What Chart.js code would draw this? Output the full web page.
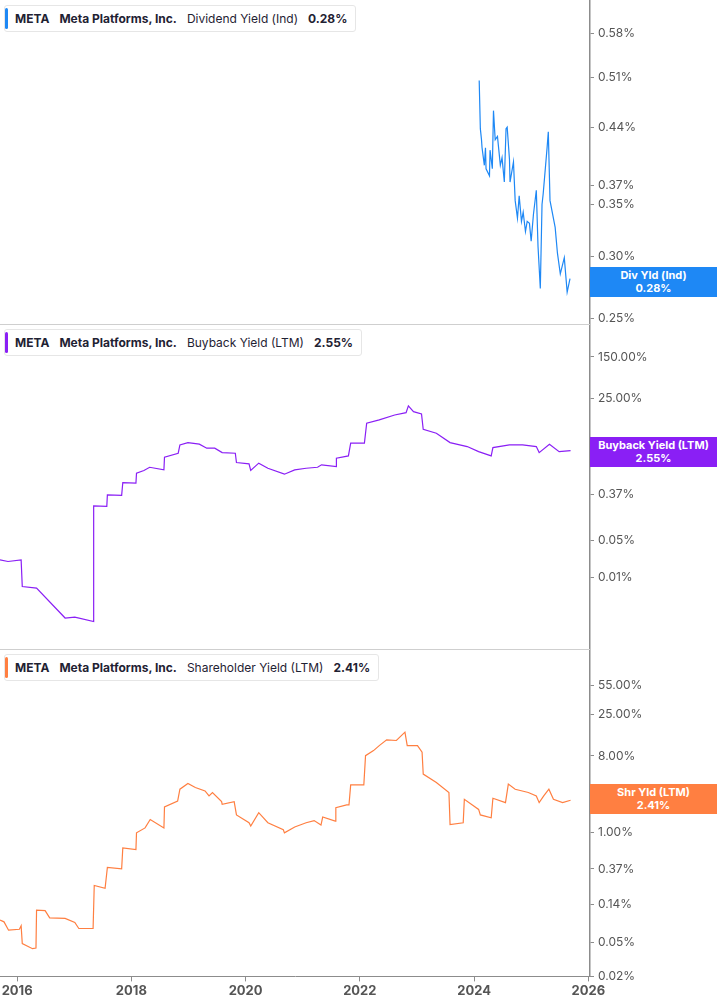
<!DOCTYPE html>
<html>
<head>
<meta charset="utf-8">
<script src="https://cdn.jsdelivr.net/npm/chart.js@4"></script>
<style>
  body { margin: 0; background: #fff; font-family: Inter, "Noto Sans", sans-serif; }
  .panel { position: absolute; left: 0; width: 717px; }
  .hdr { position: absolute; left: 4px; top: 5px; height: 25px; background: #fff; border: 1px solid #e6e6e6;
         border-radius: 3px; font-size: 12px; color: #1f2233; line-height: 25px; padding: 0 8px 0 10px; white-space: nowrap; }
  .hdr:before { content: ""; position: absolute; left: 0; top: 2px; bottom: 2px; width: 3px; border-radius: 2px; background: var(--c); }
  .hdr b { font-weight: 700; margin-right: 10px; }
  .hdr span { margin-right: 10px; }
  .badge { position: absolute; left: 590px; width: 127px; height: 30px; color: #fff; font-size: 11px; font-weight: 700;
           text-align: center; line-height: 13px; padding-top: 2px; box-sizing: border-box; }
</style>
</head>
<body>
<div class="panel" style="top:0;height:325px"><canvas id="divChart"></canvas></div>
<div class="panel" style="top:325px;height:325px"><canvas id="bbChart"></canvas></div>
<div class="panel" style="top:650px;height:355px"><canvas id="shrChart"></canvas></div>

<div class="hdr" style="--c:#1e88f5;top:5px"><b>META</b><b>Meta Platforms, Inc.</b><span>Dividend Yield (Ind)</span><b style="margin:0">0.28%</b></div>
<div class="hdr" style="--c:#8a1ff5;top:329px"><b>META</b><b>Meta Platforms, Inc.</b><span>Buyback Yield (LTM)</span><b style="margin:0">2.55%</b></div>
<div class="hdr" style="--c:#ff7f41;top:654px"><b>META</b><b>Meta Platforms, Inc.</b><span>Shareholder Yield (LTM)</span><b style="margin:0">2.41%</b></div>

<div class="badge" style="top:267px;background:#1e88f5">Div Yld (Ind)<br>0.28%</div>
<div class="badge" style="top:437px;background:#8a1ff5">Buyback Yield (LTM)<br>2.55%</div>
<div class="badge" style="top:784px;background:#ff7f41">Shr Yld (LTM)<br>2.41%</div>

<script>
// dates as decimal years, values in %
const divDates = [2024.09, 2024.11, 2024.13, 2024.14, 2024.18, 2024.20, 2024.21, 2024.27, 2024.28, 2024.32,
  2024.34, 2024.37, 2024.41, 2024.46, 2024.49, 2024.53, 2024.56, 2024.58, 2024.62, 2024.63,
  2024.69, 2024.72, 2024.76, 2024.79, 2024.83, 2024.86, 2024.90, 2024.93, 2024.97, 2025.00,
  2025.04, 2025.09, 2025.12, 2025.16, 2025.19, 2025.21, 2025.28, 2025.30, 2025.33, 2025.42,
  2025.46, 2025.51, 2025.58, 2025.63, 2025.68];
const divYield = [0.505, 0.438, 0.424, 0.414, 0.393, 0.414, 0.389, 0.381, 0.411, 0.389,
  0.462, 0.424, 0.428, 0.393, 0.402, 0.374, 0.438, 0.440, 0.400, 0.374,
  0.397, 0.354, 0.336, 0.359, 0.333, 0.342, 0.323, 0.333, 0.331, 0.314,
  0.340, 0.365, 0.309, 0.273, 0.350, 0.361, 0.415, 0.434, 0.354, 0.327,
  0.303, 0.285, 0.299, 0.270, 0.281];

const bbDates = [2015.70, 2015.84, 2016.07, 2016.09, 2016.34, 2016.84, 2017.01, 2017.34, 2017.34, 2017.57,
  2017.58, 2017.83, 2017.85, 2018.08, 2018.09, 2018.22, 2018.32, 2018.57, 2018.58, 2018.82,
  2018.85, 2018.99, 2019.19, 2019.32, 2019.46, 2019.59, 2019.82, 2019.84, 2020.06, 2020.09,
  2020.23, 2020.39, 2020.68, 2020.86, 2021.06, 2021.26, 2021.33, 2021.59, 2021.59, 2021.80,
  2021.84, 2022.08, 2022.12, 2022.34, 2022.61, 2022.81, 2022.85, 2022.94, 2023.08, 2023.11,
  2023.34, 2023.58, 2023.88, 2024.08, 2024.30, 2024.33, 2024.62, 2024.85, 2025.09, 2025.14,
  2025.32, 2025.49, 2025.69];
const bbYield = [0.0218, 0.0203, 0.0218, 0.00684, 0.00637, 0.00173, 0.0018, 0.00149, 0.229, 0.224,
  0.370, 0.362, 0.632, 0.614, 0.949, 1.07, 1.23, 1.10, 1.91, 2.27,
  3.26, 3.60, 3.36, 2.82, 2.82, 2.33, 2.27, 1.51, 1.43, 1.07,
  1.47, 1.18, 0.91, 1.10, 1.18, 1.23, 1.37, 1.27, 1.83, 2.02,
  3.51, 3.51, 8.37, 9.67, 12.0, 13.3, 17.8, 13.9, 12.6, 6.45,
  5.42, 3.60, 3.03, 2.43, 2.02, 2.90, 3.26, 3.26, 3.03, 2.33,
  3.36, 2.43, 2.55];

const shrDates = [2015.70, 2015.77, 2015.85, 2016.04, 2016.07, 2016.09, 2016.27, 2016.33, 2016.34, 2016.49,
  2016.57, 2016.84, 2017.01, 2017.08, 2017.33, 2017.35, 2017.54, 2017.58, 2017.83, 2017.85,
  2018.08, 2018.09, 2018.24, 2018.33, 2018.57, 2018.58, 2018.81, 2018.85, 2018.99, 2019.12,
  2019.29, 2019.36, 2019.42, 2019.58, 2019.59, 2019.80, 2019.84, 2020.06, 2020.09, 2020.23,
  2020.39, 2020.66, 2020.68, 2020.86, 2021.06, 2021.20, 2021.32, 2021.35, 2021.57, 2021.58,
  2021.77, 2021.81, 2021.84, 2022.07, 2022.10, 2022.24, 2022.34, 2022.47, 2022.64, 2022.79,
  2022.83, 2023.01, 2023.09, 2023.11, 2023.34, 2023.56, 2023.58, 2023.81, 2023.83, 2024.08,
  2024.11, 2024.30, 2024.33, 2024.55, 2024.60, 2024.72, 2024.95, 2025.09, 2025.14, 2025.22,
  2025.31, 2025.39, 2025.55, 2025.69];
const shrYield = [0.0919, 0.0878, 0.0699, 0.0718, 0.0788, 0.0486, 0.0423, 0.043, 0.121, 0.119,
  0.098, 0.0965, 0.0862, 0.0732, 0.0732, 0.236, 0.219, 0.386, 0.372, 0.655,
  0.626, 0.989, 1.13, 1.42, 1.13, 2.00, 2.35, 3.24, 3.79, 3.39,
  3.09, 2.70, 2.96, 2.31, 2.15, 2.31, 1.61, 1.30, 1.19, 1.71,
  1.30, 1.08, 0.989, 1.16, 1.30, 1.38, 1.22, 1.52, 1.36, 1.96,
  2.11, 2.11, 3.65, 3.65, 8.08, 9.26, 10.6, 12.4, 12.2, 15.3,
  10.6, 10.6, 8.86, 4.89, 3.89, 2.96, 1.24, 1.30, 2.46, 1.87,
  1.61, 1.49, 2.53, 2.25, 3.72, 3.24, 2.96, 2.70, 2.25, 2.70,
  3.24, 2.46, 2.25, 2.40];

const years = [2016, 2018, 2020, 2022, 2024, 2026];
const divTicks = [0.25, 0.30, 0.35, 0.37, 0.44, 0.51, 0.58];
const bbTicks = [0.01, 0.05, 0.37, 2.55, 25, 150];
const shrTicks = [0.02, 0.05, 0.14, 0.37, 1, 3, 8, 25, 55];

const axisGray = '#8c8c8c';

const panelLine = {
  id: 'panelLine',
  afterDraw(chart) {
    const { ctx, chartArea: a } = chart;
    ctx.save();
    ctx.strokeStyle = '#cfcfcf';
    ctx.lineWidth = 1;
    ctx.beginPath();
    ctx.moveTo(0, a.bottom - 0.5);
    ctx.lineTo(a.right, a.bottom - 0.5);
    ctx.stroke();
    ctx.restore();
  }
};

function makeChart(id, dates, values, color, ticks, yMin, yMax, showX) {
  new Chart(document.getElementById(id), {
    type: 'line',
    data: {
      datasets: [{
        data: dates.map((d, i) => ({ x: d, y: values[i] })),
        borderColor: color,
        borderWidth: 1.2,
        pointRadius: 0,
        tension: 0
      }]
    },
    options: {
      responsive: true,
      maintainAspectRatio: false,
      animation: false,
      layout: { padding: { top: 0, left: 0, right: 0, bottom: showX ? 4 : 0 } },
      plugins: { legend: { display: false }, tooltip: { enabled: false } },
      scales: {
        x: {
          type: 'linear',
          min: 2015.70, max: 2026.03,
          display: showX,
          afterBuildTicks: ax => { ax.ticks = years.map(v => ({ value: v })); },
          afterFit: ax => { ax.paddingLeft = 0; ax.paddingRight = 0; },
          ticks: { color: '#555', font: { size: 13, weight: 'bold', family: 'Inter' }, maxRotation: 0, padding: 2,
                   callback: v => String(v) },
          grid: { display: true, drawOnChartArea: false, tickLength: 5, color: axisGray },
          border: { display: true, color: axisGray }
        },
        y: {
          type: 'logarithmic',
          position: 'right',
          min: yMin, max: yMax,
          afterBuildTicks: ax => { ax.ticks = ticks.map(v => ({ value: v })); },
          afterFit: ax => { ax.width = 127; ax.paddingTop = 0; ax.paddingBottom = 0; },
          ticks: { color: '#555', font: { size: 12, family: 'Inter' }, padding: 4,
                   callback: v => v.toFixed(2) + '%' },
          grid: { display: true, drawOnChartArea: false, tickLength: 4, color: axisGray },
          border: { display: true, color: axisGray, width: 1.5 }
        }
      }
    },
    plugins: showX ? [] : [panelLine]
  });
}

makeChart('divChart', divDates, divYield, '#1e88f5', divTicks, 0.245, 0.641, false);
makeChart('bbChart', bbDates, bbYield, '#8a1ff5', bbTicks, 0.00043, 604, false);
makeChart('shrChart', shrDates, shrYield, '#ff7f41', shrTicks, 0.0199, 143, true);
</script>
</body>
</html>
